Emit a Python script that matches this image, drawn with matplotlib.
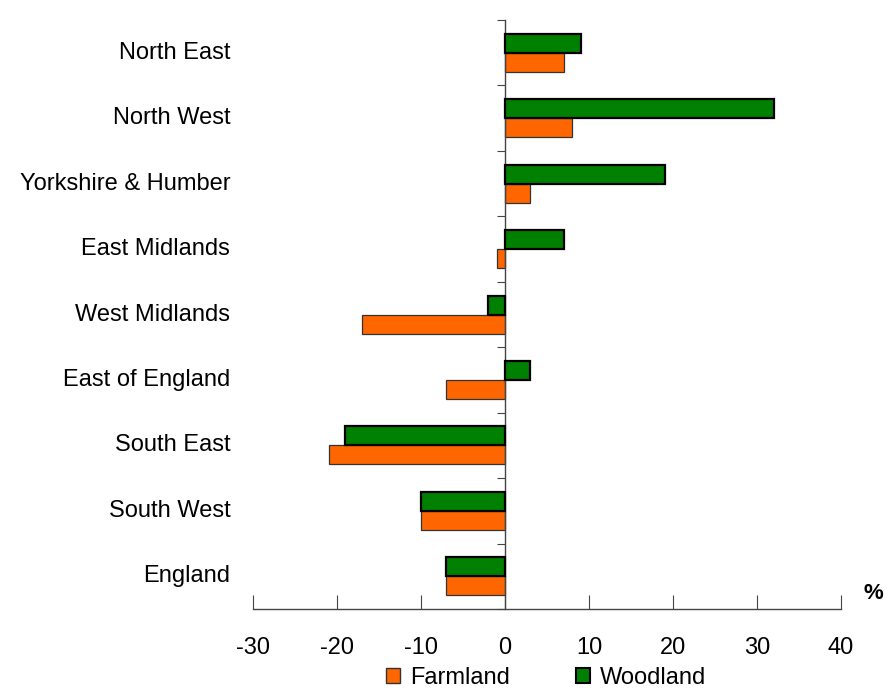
import numpy as np
import matplotlib
matplotlib.use("Agg")
import matplotlib.pyplot as plt
from matplotlib.patches import Patch

plt.rcParams['font.family'] = ['Liberation Sans', 'DejaVu Sans']
plt.rcParams['axes.unicode_minus'] = False

regions = ['North East', 'North West', 'Yorkshire & Humber', 'East Midlands',
           'West Midlands', 'East of England', 'South East', 'South West', 'England']
farmland = [7, 8, 3, -1, -17, -7, -21, -10, -7]
woodland = [9, 32, 19, 7, -2, 3, -19, -10, -7]

orange = '#FF6600'
green = '#008000'

fig = plt.figure(figsize=(8.85, 6.95), dpi=100)
ax = fig.add_axes([0.2859, 0.1237, 0.6644, 0.8475])

y = np.arange(len(regions))
h = 0.29
ax.barh(y - h / 2, woodland, height=h, color=green, edgecolor='black', linewidth=1.6, zorder=3)
ax.barh(y + h / 2, farmland, height=h, color=orange, edgecolor='#333333', linewidth=0.9, zorder=2)

ax.set_xlim(-30, 40)
ax.set_ylim(len(regions) - 0.5, -0.5)
ax.set_xticks(np.arange(-30, 41, 10))

# y axis sits at zero, ticks between categories
ax.spines['left'].set_position(('data', 0))
ax.spines['right'].set_visible(False)
ax.spines['top'].set_visible(False)
for s in ['left', 'bottom']:
    ax.spines[s].set_color('#444444')
    ax.spines[s].set_linewidth(1.0)

ax.set_yticks(np.arange(-0.5, len(regions), 1.0))
ax.set_yticklabels([])
ax.tick_params(axis='y', direction='out', length=6, color='#444444')
ax.tick_params(axis='x', direction='in', length=10, color='#444444', labelsize=17, pad=20)

for i, name in enumerate(regions):
    ax.text(-32.7, i, name, ha='right', va='center', fontsize=17,
            transform=ax.transData, clip_on=False)

ax.text(1.055, 0.008, '%', transform=ax.transAxes, fontsize=16, fontweight='bold',
        ha='center', va='bottom')

handles = [Patch(facecolor=orange, edgecolor='#333333', label='Farmland'),
           Patch(facecolor=green, edgecolor='black', linewidth=1.5, label='Woodland')]
fig.legend(handles=handles, loc='lower center', bbox_to_anchor=(0.617, -0.022), ncol=2,
           frameon=False, fontsize=17, handlelength=0.6, handleheight=0.6,
           handletextpad=0.4, columnspacing=2.8)

fig.savefig('out.png', dpi=100)
